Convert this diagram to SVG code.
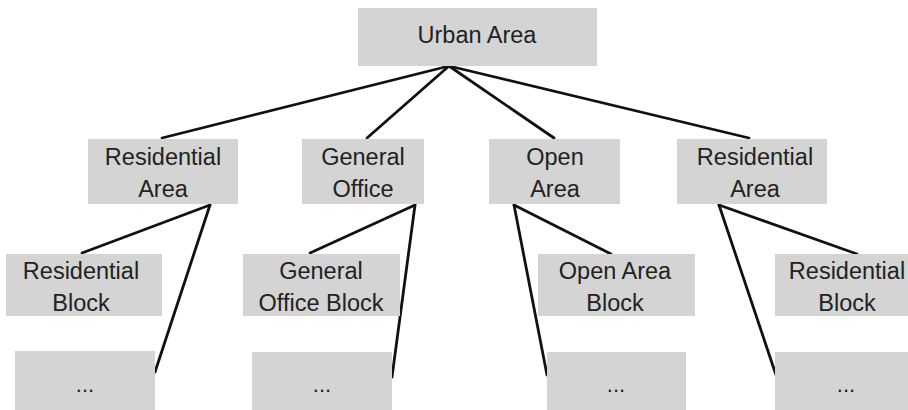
<svg xmlns="http://www.w3.org/2000/svg" width="908" height="410" viewBox="0 0 908 410">
<style>
.box{fill:#d4d4d4}
.t{font-family:"Liberation Sans",Arial,sans-serif;font-size:23.5px;fill:#222;text-anchor:middle}
.e{font-family:"Liberation Sans",Arial,sans-serif;font-size:22px;fill:#222;text-anchor:middle}
.c line{stroke:#111;stroke-width:2.8;stroke-linecap:round}
</style>
<rect width="908" height="410" fill="#fff"/>
<g class="c" id="connectors">
<line x1="449" y1="66" x2="162" y2="138"/>
<line x1="449" y1="66" x2="367" y2="138"/>
<line x1="449" y1="66" x2="554" y2="138"/>
<line x1="449" y1="66" x2="749" y2="138"/>
<line x1="210" y1="205" x2="82" y2="253"/>
<line x1="210" y1="205" x2="155" y2="372"/>
<line x1="415" y1="205" x2="310" y2="253"/>
<line x1="415" y1="205" x2="392" y2="377"/>
<line x1="514" y1="205" x2="611" y2="254"/>
<line x1="514" y1="205" x2="547" y2="375"/>
<line x1="719" y1="205" x2="857" y2="254"/>
<line x1="719" y1="205" x2="776" y2="375"/>
</g>
<g id="urban"><rect class="box" x="358" y="8" width="239" height="58"/><text class="t" x="477" y="43">Urban Area</text></g>
<g id="res1"><rect class="box" x="88" y="139" width="150" height="65"/><text class="t" x="163" y="165">Residential</text><text class="t" x="163" y="197">Area</text></g>
<g id="office"><rect class="box" x="302" y="139" width="122" height="65"/><text class="t" x="363" y="165">General</text><text class="t" x="363" y="197">Office</text></g>
<g id="open"><rect class="box" x="489" y="139" width="131" height="65"/><text class="t" x="555" y="165">Open</text><text class="t" x="555" y="197">Area</text></g>
<g id="res2"><rect class="box" x="677" y="139" width="150" height="65"/><text class="t" x="755" y="165">Residential</text><text class="t" x="755" y="197">Area</text></g>
<g id="resblock1"><rect class="box" x="6" y="254" width="156" height="62"/><text class="t" x="81" y="279">Residential</text><text class="t" x="81" y="311">Block</text></g>
<g id="officeblock"><rect class="box" x="243" y="254" width="157" height="62"/><text class="t" x="321" y="279">General</text><text class="t" x="321" y="311">Office Block</text></g>
<g id="openblock"><rect class="box" x="538" y="254" width="157" height="62"/><text class="t" x="615" y="279">Open Area</text><text class="t" x="615" y="311">Block</text></g>
<g id="resblock2"><rect class="box" x="775" y="254" width="156" height="62"/><text class="t" x="847" y="279">Residential</text><text class="t" x="847" y="311">Block</text></g>
<g id="more1"><rect class="box" x="15" y="351" width="140" height="59"/><text class="e" x="85" y="392">...</text></g>
<g id="more2"><rect class="box" x="252" y="352" width="140" height="58"/><text class="e" x="322" y="392">...</text></g>
<g id="more3"><rect class="box" x="547" y="352" width="139" height="58"/><text class="e" x="616" y="392">...</text></g>
<g id="more4"><rect class="box" x="775" y="352" width="140" height="58"/><text class="e" x="846" y="392">...</text></g>
</svg>
